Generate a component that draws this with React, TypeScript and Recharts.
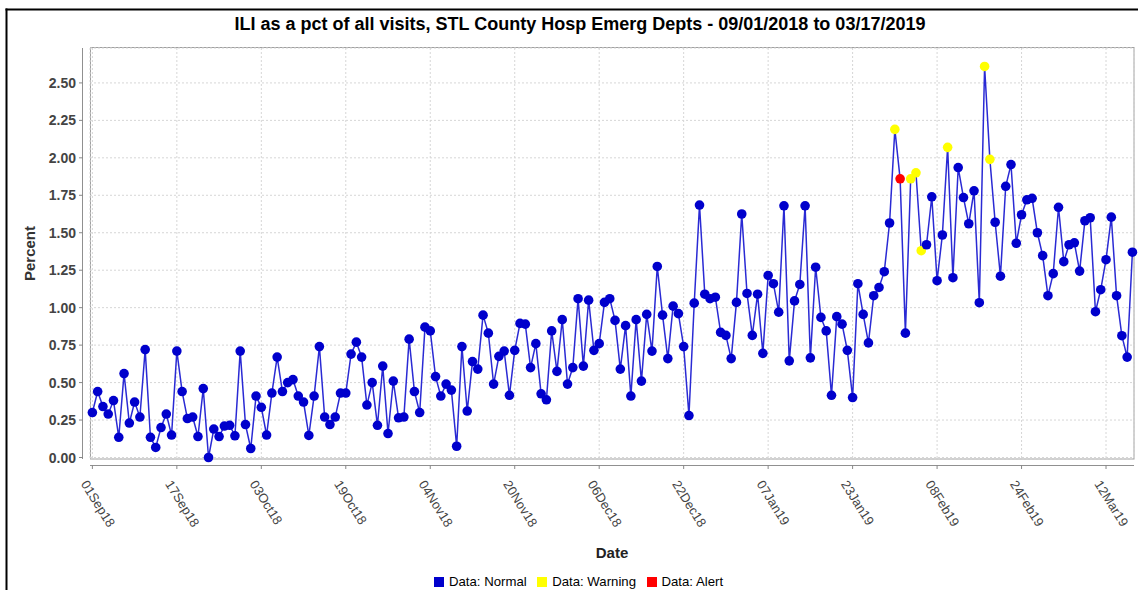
import { LineChart, Line, XAxis, YAxis, CartesianGrid } from "recharts";

// daily ILI percent, 01Sep2018 .. 17Mar2019
const percent = [
  0.3, 0.44, 0.34, 0.29, 0.38, 0.135, 0.56, 0.23, 0.37, 0.27,
  0.72, 0.135, 0.067, 0.2, 0.29, 0.15, 0.71, 0.44, 0.26, 0.27,
  0.14, 0.46, 0.0, 0.19, 0.14, 0.21, 0.215, 0.145, 0.71, 0.22,
  0.06, 0.41, 0.335, 0.15, 0.43, 0.67, 0.44, 0.5, 0.52, 0.41,
  0.37, 0.147, 0.41, 0.74, 0.27, 0.22, 0.27, 0.43, 0.43, 0.69,
  0.77, 0.67, 0.35, 0.5, 0.215, 0.61, 0.16, 0.51, 0.265, 0.27,
  0.79, 0.44, 0.3, 0.87, 0.845, 0.54, 0.41, 0.49, 0.45, 0.075,
  0.74, 0.31, 0.64, 0.59, 0.95, 0.83, 0.49, 0.675, 0.71, 0.415,
  0.715, 0.895, 0.89, 0.6, 0.76, 0.425, 0.385, 0.845, 0.575, 0.92,
  0.49, 0.6, 1.06, 0.61, 1.05, 0.715, 0.76, 1.035, 1.06, 0.915,
  0.59, 0.88, 0.41, 0.92, 0.51, 0.955, 0.71, 1.275, 0.95, 0.66,
  1.01, 0.96, 0.74, 0.28, 1.03, 1.685, 1.09, 1.06, 1.07, 0.835,
  0.815, 0.66, 1.035, 1.625, 1.095, 0.815, 1.09, 0.695, 1.215, 1.16,
  0.97, 1.68, 0.645, 1.045, 1.155, 1.68, 0.665, 1.27, 0.935, 0.845,
  0.415, 0.94, 0.89, 0.715, 0.4, 1.16, 0.955, 0.765, 1.08, 1.135,
  1.24, 1.565, 2.19, 1.86, 0.83, 1.86, 1.9, 1.38, 1.42, 1.74,
  1.18, 1.485, 2.07, 1.2, 1.935, 1.735, 1.56, 1.78, 1.033, 2.61,
  1.99, 1.57, 1.21, 1.81, 1.955, 1.43, 1.62, 1.72, 1.73, 1.5,
  1.347, 1.08, 1.227, 1.67, 1.307, 1.42, 1.433, 1.244, 1.58, 1.6,
  0.973, 1.12, 1.32, 1.604, 1.08, 0.813, 0.67, 1.37,
];

// day indexes (0 = 01Sep18) flagged by the detector
const warningDays = [152, 155, 156, 157, 162, 169, 170];
const alertDays = [153];

const tickDays = [0, 16, 32, 48, 64, 80, 96, 112, 128, 144, 160, 176, 192];
const tickLabels = [
  "01Sep18", "17Sep18", "03Oct18", "19Oct18", "04Nov18", "20Nov18", "06Dec18",
  "22Dec18", "07Jan19", "23Jan19", "08Feb19", "24Feb19", "12Mar19",
];
const yTicks = [0, 0.25, 0.5, 0.75, 1, 1.25, 1.5, 1.75, 2, 2.25, 2.5];

const legendItems = [
  { label: "Data: Normal", color: "#0000cc" },
  { label: "Data: Warning", color: "#ffff00" },
  { label: "Data: Alert", color: "#ff0000" },
];

const rows = percent.map((pct, day) => ({ day, pct }));

const FONT = "'Liberation Sans', Arial, sans-serif";
const W = 1138;
const H = 590;
const PLOT_LEFT = 90;
const PLOT_TOP = 48;
const PLOT_RIGHT = 1134;
const PLOT_BOTTOM = 459;

function dotColor(i: number) {
  if (alertDays.includes(i)) return legendItems[2].color;
  if (warningDays.includes(i)) return legendItems[1].color;
  return legendItems[0].color;
}

function DateTick(props: any) {
  const { x, payload } = props;
  const label = tickLabels[tickDays.indexOf(payload.value)] ?? "";
  return (
    <g>
      <line x1={x} x2={x} y1={PLOT_BOTTOM + 6} y2={PLOT_BOTTOM + 10} stroke="#888" />
      <text
        transform={`translate(${x - 12},${PLOT_BOTTOM + 25}) rotate(58)`}
        fontSize={13}
        fontFamily={FONT}
        fill="#444"
        textAnchor="start"
      >
        {label}
      </text>
    </g>
  );
}

function PctTick(props: any) {
  const { y, payload } = props;
  return (
    <g>
      <line x1={79} x2={83} y1={y} y2={y} stroke="#888" />
      <text
        x={76}
        y={y + 5}
        fontSize={14}
        fontWeight="bold"
        fontFamily={FONT}
        fill="#444"
        textAnchor="end"
      >
        {payload.value.toFixed(2)}
      </text>
    </g>
  );
}

const renderDot = (p: any) => (
  <circle key={p.index} cx={p.cx} cy={p.cy} r={4.8} fill={dotColor(p.index)} />
);

export default function App() {
  return (
    <div
      style={{
        position: "absolute",
        left: 0,
        top: 0,
        width: W,
        height: H,
        background: "#fff",
        fontFamily: FONT,
        overflow: "hidden",
      }}
    >
      <svg width={W} height={H} style={{ position: "absolute", left: 0, top: 0 }}>
        <line x1={5.5} x2={W} y1={9.5} y2={9.5} stroke="#000" strokeWidth={2} />
        <line x1={6.5} x2={6.5} y1={8.5} y2={H} stroke="#000" strokeWidth={2} />
        <rect
          x={PLOT_LEFT + 0.5}
          y={PLOT_TOP - 0.5}
          width={PLOT_RIGHT - PLOT_LEFT - 0.5}
          height={PLOT_BOTTOM - PLOT_TOP + 0.5}
          fill="none"
          stroke="#a0a0a0"
        />
        <line x1={82.5} x2={82.5} y1={PLOT_TOP} y2={PLOT_BOTTOM} stroke="#909090" />
        <line x1={PLOT_LEFT} x2={PLOT_RIGHT} y1={465.5} y2={465.5} stroke="#909090" />
        <text x={580} y={29.5} textAnchor="middle" fontSize={18} fontWeight="bold" fill="#000">
          ILI as a pct of all visits, STL County Hosp Emerg Depts - 09/01/2018 to 03/17/2019
        </text>
        <text
          transform="translate(35,253.5) rotate(-90)"
          textAnchor="middle"
          fontSize={15}
          fontWeight="bold"
          fill="#333"
        >
          Percent
        </text>
        <text x={612} y={557.5} textAnchor="middle" fontSize={15} fontWeight="bold" fill="#222">
          Date
        </text>
      </svg>

      <div style={{ position: "absolute", left: 0, top: 0 }}>
        <LineChart
          width={W}
          height={H}
          data={rows}
          margin={{ top: PLOT_TOP, right: W - PLOT_RIGHT, bottom: 0, left: 0 }}
        >
          <CartesianGrid stroke="#d6d6d6" strokeDasharray="2 2" />
          <XAxis
            dataKey="day"
            type="number"
            domain={[-0.45, 197.3]}
            ticks={tickDays}
            interval={0}
            height={H - PLOT_BOTTOM}
            axisLine={false}
            tickLine={false}
            tick={<DateTick />}
          />
          <YAxis
            type="number"
            domain={[-0.01, 2.733]}
            ticks={yTicks}
            interval={0}
            width={PLOT_LEFT}
            axisLine={false}
            tickLine={false}
            tick={<PctTick />}
          />
          <Line
            dataKey="pct"
            type="linear"
            stroke="#2a2ad4"
            strokeWidth={1.5}
            dot={renderDot}
            activeDot={false}
            isAnimationActive={false}
          />
        </LineChart>
      </div>

      <div
        style={{
          position: "absolute",
          left: 434,
          top: 575,
          display: "flex",
          alignItems: "center",
          fontSize: 13.2,
          color: "#000",
          lineHeight: "14px",
        }}
      >
        {legendItems.map((item) => (
          <div key={item.label} style={{ display: "flex", alignItems: "center", marginRight: 10.5 }}>
            <span
              style={{
                display: "inline-block",
                width: 10,
                height: 10,
                background: item.color,
                marginRight: 5,
              }}
            />
            <span>{item.label}</span>
          </div>
        ))}
      </div>
    </div>
  );
}
